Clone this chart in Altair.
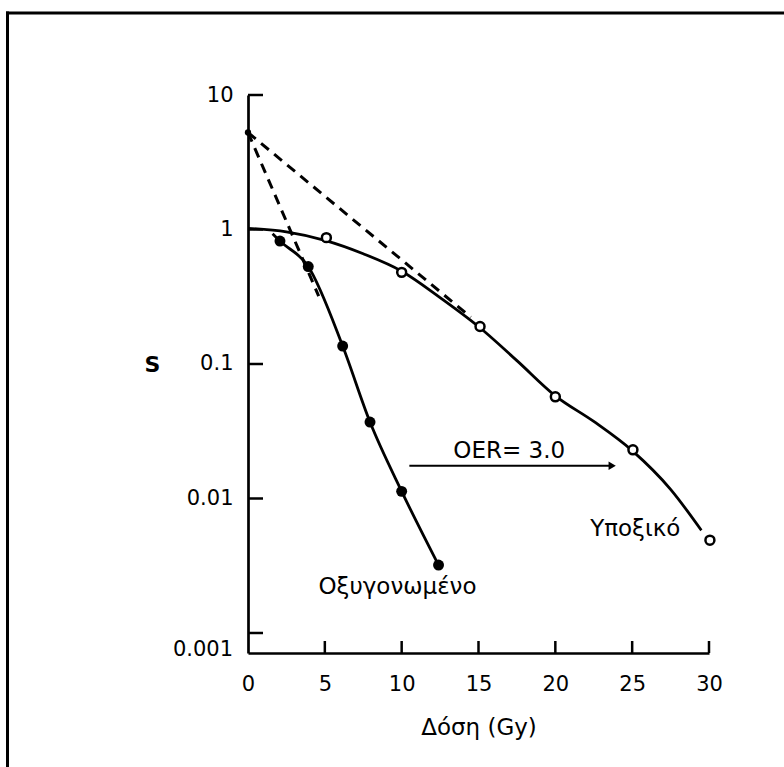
import altair as alt
import pandas as pd

# ---- values ----
hyp_pts_x = [5.1, 10.0, 15.1, 20.0, 25.05, 30.06]
hyp_pts_y = [0.87, 0.48, 0.19, 0.057, 0.023, 0.0049]

oxy_pts_x = [2.08, 3.92, 6.16, 7.94, 10.0, 12.4]
oxy_pts_y = [0.82, 0.53, 0.136, 0.037, 0.0113, 0.0032]

hyp_curve_x = [0, 2.5, 5, 7.5, 10, 12.5, 15, 17.5, 20, 22.5, 25, 27.5, 29.5]
hyp_curve_y = [1.02, 0.96, 0.83, 0.66, 0.49, 0.312, 0.19, 0.106, 0.058, 0.0374, 0.0227, 0.0117, 0.0058]

oxy_curve_x = [1.6, 2.08, 3.92, 6.16, 7.94, 10.0, 12.4]
oxy_curve_y = [0.93, 0.82, 0.53, 0.136, 0.037, 0.0113, 0.0032]

dash1_x = [0, 4.6]
dash1_y = [5.26, 0.32]
dash2_x = [0, 14.5]
dash2_y = [5.26, 0.223]

arrow_x = [10.5, 23.7]
arrow_y = [0.0175, 0.0175]

label_text = ["OER= 3.0", "Υποξικό", "Οξυγονωμένο"]
label_x = [17.0, 25.2, 9.73]
label_y = [0.0226, 0.0059, 0.00218]

x_tick_vals = [0, 5, 10, 15, 20, 25, 30]
y_tick_vals = [10, 1, 0.1, 0.01]
y_all_ticks = [10, 1, 0.1, 0.01, 0.001]

W, H = 461, 558
FONT = "DejaVu Sans"

xscale = alt.Scale(domain=[0, 30], nice=False, zero=False)
yscale = alt.Scale(type="log", domain=[0.00071, 10], nice=False)

xaxis = alt.Axis(values=x_tick_vals, ticks=False, tickSize=0, grid=False,
                 labelPadding=20, labelFontSize=21, labelFont=FONT, labelColor="black",
                 labelFlush=False,
                 domainColor="black", domainWidth=2.7,
                 title="Δόση (Gy)", titleFont=FONT, titleFontSize=23,
                 titleFontWeight="normal", titleColor="black", titlePadding=22)
yaxis = alt.Axis(values=y_tick_vals, format="~g", ticks=False, tickSize=0, grid=False,
                 labelPadding=15, labelFontSize=21, labelFont=FONT, labelColor="black",
                 labelFlush=False,
                 domainColor="black", domainWidth=2.7,
                 title="S", titleFont=FONT, titleFontSize=22, titleFontWeight="bold",
                 titleColor="black", titleAngle=0, titleX=-96, titleY=269,
                 titleAlign="center", titleBaseline="middle")


def X(field="x"):
    return alt.X(f"{field}:Q", scale=xscale, axis=xaxis)


def Y(field="y"):
    return alt.Y(f"{field}:Q", scale=yscale, axis=yaxis)


hyp_curve = alt.Chart(pd.DataFrame({"x": hyp_curve_x, "y": hyp_curve_y})).mark_line(
    color="black", strokeWidth=2.8, interpolate="monotone").encode(x=X(), y=Y())

oxy_curve = alt.Chart(pd.DataFrame({"x": oxy_curve_x, "y": oxy_curve_y})).mark_line(
    color="black", strokeWidth=2.8, interpolate="monotone").encode(x=X(), y=Y())

dash1 = alt.Chart(pd.DataFrame({"x": dash1_x, "y": dash1_y})).mark_line(
    color="black", strokeWidth=3, strokeDash=[10, 7]).encode(x=X(), y=Y())
dash2 = alt.Chart(pd.DataFrame({"x": dash2_x, "y": dash2_y})).mark_line(
    color="black", strokeWidth=3, strokeDash=[10, 7]).encode(x=X(), y=Y())

origin_dot = alt.Chart(pd.DataFrame({"x": dash1_x[:1], "y": dash1_y[:1]})).mark_point(
    filled=True, color="black", size=40, opacity=1).encode(x=X(), y=Y())

hyp_pts = alt.Chart(pd.DataFrame({"x": hyp_pts_x, "y": hyp_pts_y})).mark_point(
    shape="circle", filled=True, fill="white", stroke="black", strokeWidth=2.5,
    size=80, opacity=1).encode(x=X(), y=Y())

oxy_pts = alt.Chart(pd.DataFrame({"x": oxy_pts_x, "y": oxy_pts_y})).mark_point(
    shape="circle", filled=True, color="black", size=120, opacity=1).encode(x=X(), y=Y())

arrow_line = alt.Chart(pd.DataFrame({"x": arrow_x, "y": arrow_y})).mark_line(
    color="black", strokeWidth=2).encode(x=X(), y=Y())
arrow_head = alt.Chart(pd.DataFrame({"x": arrow_x[-1:], "y": arrow_y[-1:]})).mark_point(
    shape="triangle-right", filled=True, color="black", size=70, opacity=1).encode(x=X(), y=Y())

labels = alt.Chart(pd.DataFrame({"x": label_x, "y": label_y, "t": label_text})).mark_text(
    font=FONT, fontSize=23, color="black", align="center", baseline="middle").encode(
    x=X(), y=Y(), text="t:N")

low_label = alt.Chart(pd.DataFrame({"y": [0.00075], "t": ["0.001"]})).mark_text(
    font=FONT, fontSize=21, color="black", align="right", baseline="middle").encode(
    x=alt.value(-15), y=Y(), text="t:N")

y_ticks = alt.Chart(pd.DataFrame({"y": y_all_ticks})).mark_rule(
    color="black", strokeWidth=2.5).encode(y=Y(), x=alt.value(0), x2=alt.value(15))

x_ticks = alt.Chart(pd.DataFrame({"x": x_tick_vals[1:]})).mark_rule(
    color="black", strokeWidth=2.5).encode(x=X(), y=alt.value(H), y2=alt.value(H - 12))

frame_df = pd.DataFrame({"a": [0]})
frame_left = alt.Chart(frame_df).mark_rule(color="black", strokeWidth=3).encode(
    x=alt.value(-240.5), y=alt.value(-83.5), y2=alt.value(700))
frame_top = alt.Chart(frame_df).mark_rule(color="black", strokeWidth=3).encode(
    y=alt.value(-82), x=alt.value(-242), x2=alt.value(560))

chart = alt.layer(
    frame_left, frame_top,
    dash1, dash2, origin_dot,
    hyp_curve, oxy_curve,
    hyp_pts, oxy_pts,
    arrow_line, arrow_head,
    labels, low_label,
    y_ticks, x_ticks,
).properties(
    width=W, height=H,
    padding={"left": 248, "top": 95, "right": 75, "bottom": 114},
    autosize=alt.AutoSizeParams(type="none"),
    background="white",
).configure_view(stroke=None)

chart.save("out.html", embed_options={"renderer": "svg", "actions": False})
